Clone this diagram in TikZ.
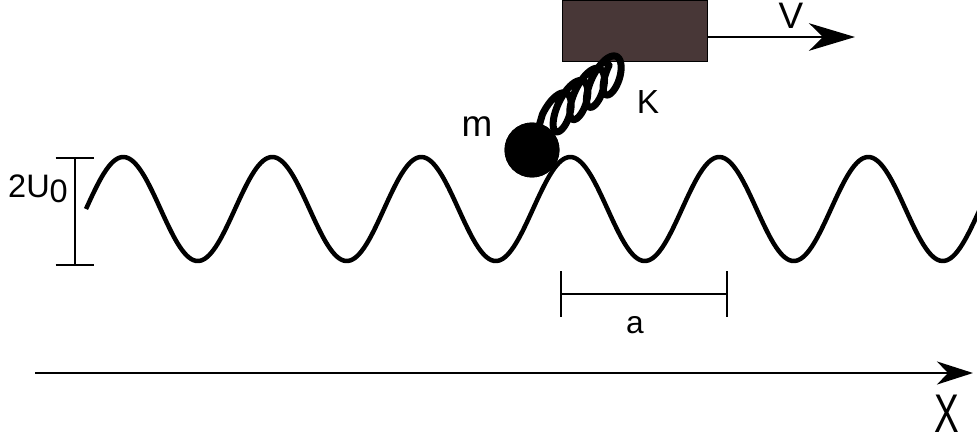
\documentclass[tikz,border=0pt]{standalone}
\usepackage{fontspec}
\setmainfont{Liberation Sans}
\usetikzlibrary{arrows.meta}
\definecolor{cartbrown}{RGB}{72,55,55}
\begin{document}
\begin{tikzpicture}[x=0.02cm,y=-0.02cm]
  \path[use as bounding box] (0,0) rectangle (977,443);
  \tikzset{lbl/.style={inner sep=0pt,font=\fontsize{18}{21}\selectfont},
    bar/.style={line width=0.055cm},
    spring/.style={line width=0.14cm,line join=round}}

  % substrate potential
  \draw[line width=0.09cm,line join=round] plot[domain=86:980,samples=400,smooth]
    (\x,{209-52*sin(2.41611*(\x-86))});

  % amplitude and period markers
  \coordinate (ampTop) at (75,158);
  \coordinate (ampBot) at (75,265);
  \draw[bar] (ampTop) -- (ampBot);
  \draw[bar] ([xshift=-11]ampTop) -- ([xshift=11]ampTop);
  \draw[bar] ([xshift=-11]ampBot) -- ([xshift=11]ampBot);
  \node[lbl,font=\fontsize{18.5}{21}\selectfont] (amp) at (38,189) {2U\raisebox{-3pt}{0}};
  \coordinate (perL) at (561,294);
  \coordinate (perR) at (727,294);
  \draw[bar] (perL) -- (perR);
  \draw[bar] ([yshift=-13]perL) -- ([yshift=13]perL);
  \draw[bar] ([yshift=-13]perR) -- ([yshift=13]perR);
  \node[lbl] (per) at (635,325) {a};

  % x axis
  \coordinate (axL) at (35,373);
  \coordinate (axR) at (973,373);
  \draw[line width=0.055cm,-{Stealth[length=0.72cm,width=0.46cm,inset=0.22cm]}] (axL) -- (axR);
  \node[lbl,font=\fontsize{31}{35}\selectfont] (xlab) at (947,414) {\scalebox{0.68}[1]{X}};

  % driven block, spring and particle
  \node[draw=black,fill=cartbrown,thin,minimum width=2.9cm,minimum height=1.22cm,
    inner sep=0pt] (cart) at (634.5,30.5) {};
  \coordinate (hook) at ([xshift=-0.6cm]cart.south);
  \coordinate (vtip) at (855,37);
  \draw[line width=0.055cm,-{Stealth[length=0.92cm,width=0.55cm,inset=0.28cm]}]
    (cart.east |- vtip) -- (vtip);
  \node[lbl,font=\fontsize{21}{24}\selectfont] (vlab) at (791,16) {V};
  \node[circle,fill=black,minimum size=1.1cm,inner sep=0pt] (mass) at (532,150) {};
  % coil seen slightly from the side: four turns
  \draw[spring] (mass.center) -- plot[domain=0:1440,samples=240,smooth,variable=\t]
    ({551.7+0.0575*\t*0.805+24*sin(\t)*0.375-10*cos(\t)*0.927},
     {118.1-0.0575*\t*0.593-24*sin(\t)*0.927-10*cos(\t)*0.375}) -- (hook);
  \node[circle,fill=black,minimum size=1.1cm,inner sep=0pt] at (mass) {};
  \node[lbl,font=\fontsize{21}{25}\selectfont] (mlab) at (477,127) {m};
  \node[lbl,font=\fontsize{19}{22}\selectfont] (klab) at (648,102) {K};
\end{tikzpicture}
\end{document}
